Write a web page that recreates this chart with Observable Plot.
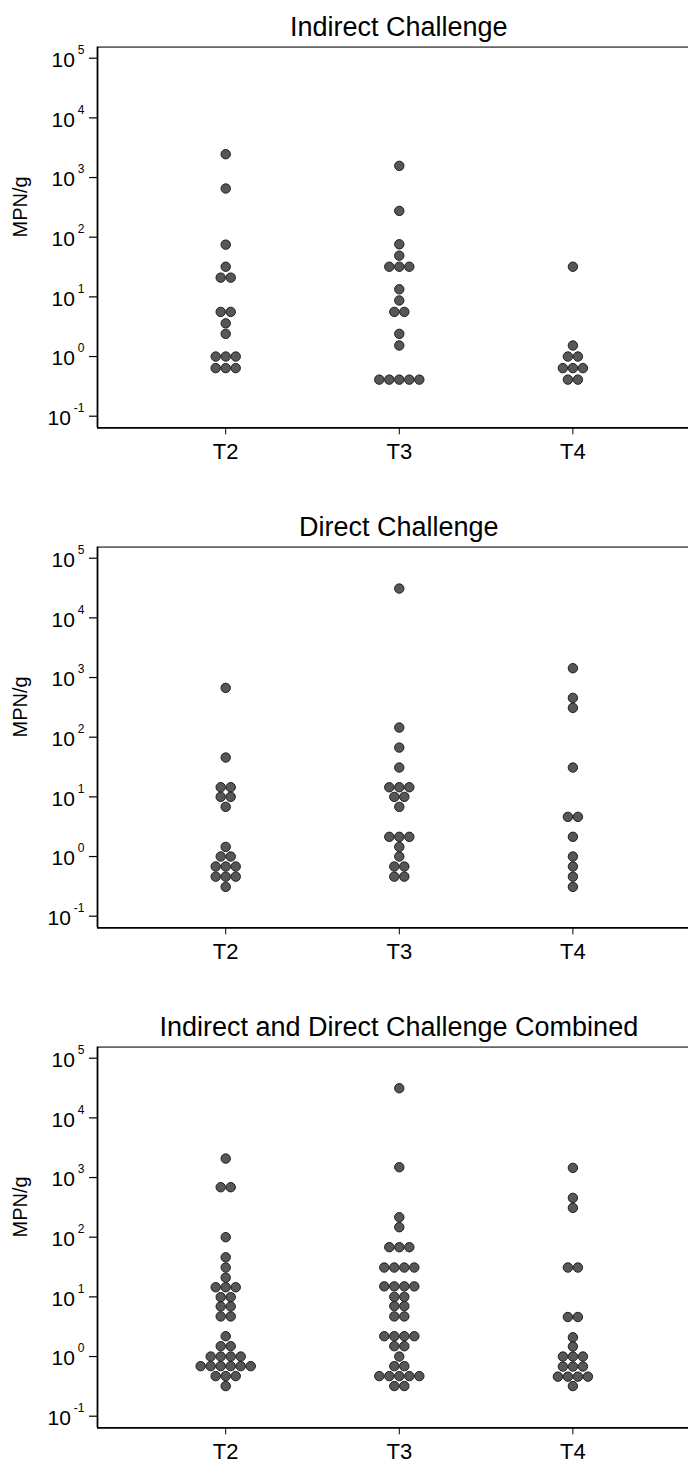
<!DOCTYPE html>
<html>
<head>
<meta charset="utf-8">
<script src="https://cdn.jsdelivr.net/npm/d3@7"></script>
<script src="https://cdn.jsdelivr.net/npm/@observablehq/plot@0.6"></script>
<style>
  html, body { margin: 0; padding: 0; background: #fff; overflow: hidden; }
  #root { width: 688px; overflow: hidden; }
  .panel { position: relative; width: 688px; }
  .panel svg { position: absolute; left: 0; top: 0; max-width: none !important; }
  .title {
    position: absolute; left: 97px; width: 603.6px; top: 13.8px;
    text-align: center; font-family: "Liberation Sans", Arial, sans-serif;
    font-size: 27px; line-height: 27px; color: #000; z-index: 2; white-space: nowrap;
  }
</style>
</head>
<body>
<div id="root"></div>
<script>
// ---------- data (MPN/g values) ----------
const categories = ["T2", "T3", "T4"];
const panelTitles = ["Indirect Challenge", "Direct Challenge", "Indirect and Direct Challenge Combined"];
const yTickValues = [0.1, 1, 10, 100, 1000, 10000, 100000];
const yLabel = "MPN/g";

// Indirect challenge
const indirectT2 = [2460, 655, 75, 32, 21, 21, 5.6, 5.6, 3.6, 2.4, 1, 1, 1, 0.64, 0.64, 0.64];
const indirectT3 = [1570, 276, 76, 49, 32, 32, 32, 13.4, 8.7, 5.6, 5.6, 2.4, 1.53, 0.41, 0.41, 0.41, 0.41, 0.41];
const indirectT4 = [32, 1.53, 1, 1, 0.64, 0.64, 0.64, 0.41, 0.41];

// Direct challenge
const directT2 = [671, 45.6, 14.5, 14.5, 10, 10, 6.8, 1.45, 1, 1, 0.68, 0.68, 0.68, 0.46, 0.46, 0.46, 0.31];
const directT3 = [31000, 145, 67, 31, 14.5, 14.5, 14.5, 10, 10, 6.8, 2.14, 2.14, 2.14, 1.45, 1, 0.68, 0.68, 0.46, 0.46];
const directT4 = [1433, 456, 310, 31, 4.62, 4.62, 2.14, 1, 0.68, 0.46, 0.31];

// Combined
const combinedT2 = [2080, 688, 688, 100, 46, 31, 21, 14.5, 14.5, 14.5, 9.9, 9.9, 6.9, 6.9, 4.7, 4.7, 2.19, 1.49, 1.49,
  1, 1, 1, 1, 0.69, 0.69, 0.69, 0.69, 0.69, 0.69, 0.47, 0.47, 0.47, 0.32];
const combinedT3 = [31400, 1489, 216, 147, 68, 68, 68, 31, 31, 31, 31, 15, 15, 15, 15, 10, 10, 7, 7, 4.7, 4.7,
  2.19, 2.19, 2.19, 2.19, 1.49, 1.49, 1, 0.69, 0.69, 0.47, 0.47, 0.47, 0.47, 0.47, 0.32, 0.32];
const combinedT4 = [1452, 456, 310, 31, 31, 4.6, 4.6, 2.1, 1.47, 1, 1, 1, 0.68, 0.68, 0.68, 0.46, 0.46, 0.46, 0.46, 0.32];

const panelSeries = [
  [indirectT2, indirectT3, indirectT4],
  [directT2, directT3, directT4],
  [combinedT2, combinedT3, combinedT4]
];

// ---------- layout / style ----------
const X_PAD = 0.7386;              // category padding (in category steps)
const STEP_PX = 173.3;             // pixels between categories
const DOT_PX = 10;                 // horizontal spacing between dots in a row
const Y_MIN = Math.pow(10, -1.1944);
const Y_MAX = Math.pow(10, 5.1844);
const FONT = "'Liberation Sans', Arial, sans-serif";

// Stata-style dot plot rows: equal values in a group sit side by side, centred.
function toRows(series) {
  const out = [];
  series.forEach((vals, gi) => {
    const counts = d3.rollup(vals, v => v.length, v => v);
    for (const [value, n] of counts) {
      for (let k = 0; k < n; k++) {
        out.push({group: categories[gi], gi, value, x: gi + (k - (n - 1) / 2) * DOT_PX / STEP_PX});
      }
    }
  });
  return out;
}

const root = document.getElementById("root");

panelSeries.forEach((series, pi) => {
  const data = toRows(series);
  const last = pi === panelSeries.length - 1;
  const H = last ? 464 : 500;
  const panel = document.createElement("div");
  panel.className = "panel";
  panel.style.height = H + "px";
  const title = document.createElement("div");
  title.className = "title";
  title.textContent = panelTitles[pi];
  panel.appendChild(title);

  const svg = Plot.plot({
    width: 688,
    height: H,
    marginTop: 46.7,
    marginBottom: H - 427.3,
    marginLeft: 97,
    marginRight: -12.6,
    style: {fontFamily: FONT, fontSize: "21px", background: "transparent", color: "#000", maxWidth: "none"},
    x: {type: "linear", domain: [-X_PAD, categories.length - 1 + X_PAD]},
    y: {type: "log", domain: [Y_MIN, Y_MAX]},
    marks: [
      Plot.ruleY([Y_MAX], {stroke: "#666", strokeWidth: 1.8}),
      Plot.axisY({ticks: yTickValues, tickSize: 8, tickPadding: 5, strokeWidth: 1.2, fontSize: 21,
        tickFormat: d => "10^" + Math.round(Math.log10(d)), label: null}),
      Plot.axisX({ticks: d3.range(categories.length), tickSize: 7, tickPadding: 9, strokeWidth: 1, fontSize: 22,
        tickFormat: i => categories[i], label: null}),
      Plot.ruleX([-X_PAD], {stroke: "#000", strokeWidth: 1.8}),
      Plot.ruleY([Y_MIN], {stroke: "#000", strokeWidth: 1.8}),
      Plot.dot(data, {x: "x", y: "value", r: 4.7, fill: "#575757", stroke: "#1e1e1e", strokeWidth: 1}),
      Plot.text([yLabel], {frameAnchor: "left", dx: -76.5, rotate: -90, fontSize: 20, fill: "#000"})
    ]
  });

  // superscript exponents on the y tick labels
  const ns = "http://www.w3.org/2000/svg";
  svg.querySelectorAll('g[aria-label="y-axis tick label"] text').forEach(t => {
    const s = t.textContent;
    if (!s.includes("^")) return;
    const [base, exp] = s.split("^");
    t.textContent = "";
    const b = document.createElementNS(ns, "tspan");
    b.setAttribute("dy", "2");
    b.textContent = base;
    const e = document.createElementNS(ns, "tspan");
    e.setAttribute("dx", "3");
    e.setAttribute("dy", "-13");
    e.setAttribute("font-size", "12");
    e.textContent = exp;
    t.appendChild(b);
    t.appendChild(e);
  });

  panel.appendChild(svg);
  root.appendChild(panel);
});
</script>
</body>
</html>
